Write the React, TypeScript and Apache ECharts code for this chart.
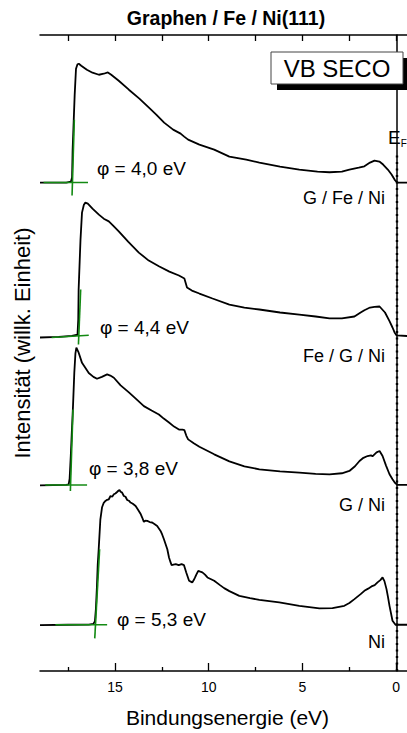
import React, { useEffect, useRef } from "react";
import * as echarts from "echarts";

const FONT = "'Liberation Sans', Arial, Helvetica, sans-serif";

// x axis (binding energy, eV), drawn reversed
const xMajorTicks = [0, 5, 10, 15];
const xMinorTicks = [2.5, 7.5, 12.5, 17.5];
const xTopTicks = [0, 2.5, 5, 7.5, 10, 12.5, 15, 17.5];

const sampleNames = ["G / Fe / Ni", "Fe / G / Ni", "G / Ni", "Ni"];
const workFunctionLabels = ["φ = 4,0 eV", "φ = 4,4 eV", "φ = 3,8 eV", "φ = 5,3 eV"];
const offsets = [76.8, 52.6, 29.25, 7.27];

// G / Fe / Ni
const s1E = [19, 17.6, 17.35, 17.29, 17.26, 17.2, 17.15, 17.08, 17.0, 16.93, 16.8, 16.5, 16.2, 15.86, 15.6, 15.38, 15.2, 14.8, 14.26, 13.7, 13.19, 12.8, 12.38, 11.9, 11.5, 11.31, 11.1, 10.5, 9.71, 8.9, 8.0, 7.3, 6.2, 5.17, 4.2, 3.56, 2.9, 2.5, 2.0, 1.7, 1.4, 1.16, 0.9, 0.7, 0.45, 0.25, 0.09, -0.05, -1];
const s1I = [0, 0, 0.16, 0.78, 5.18, 9.89, 13.82, 17.9, 18.6, 18.68, 18.37, 17.74, 17.27, 16.95, 17.11, 17.32, 16.95, 16.01, 14.6, 13.19, 11.77, 10.68, 9.42, 8.32, 7.69, 7.22, 6.75, 5.97, 5.18, 4.08, 3.61, 3.14, 2.51, 2.04, 1.73, 1.62, 1.73, 2.04, 2.35, 2.56, 3.14, 3.45, 3.3, 2.83, 2.04, 1.26, 0.47, 0, 0];

// Fe / G / Ni
const s2E = [19, 18, 17.3, 17.0, 16.96, 16.94, 16.88, 16.84, 16.76, 16.66, 16.58, 16.45, 16.2, 15.86, 15.6, 15.33, 15.1, 14.8, 14.3, 13.73, 13.2, 12.66, 12.1, 11.59, 11.3, 11.16, 10.9, 10.5, 9.8, 8.9, 8.1, 7.3, 6.2, 5.17, 4.3, 3.56, 2.9, 2.23, 1.9, 1.7, 1.4, 1.16, 0.89, 0.6, 0.36, 0.2, 0.09, -0.02, -1];
const s2I = [-0.16, -0.08, 0.08, 0.27, 2.67, 7.38, 12.09, 15.23, 19.47, 20.72, 21.04, 20.88, 20.09, 19.15, 18.52, 18.1, 17.43, 16.53, 14.91, 13.19, 11.93, 11.04, 10.2, 9.58, 9.11, 7.69, 7.22, 6.75, 5.97, 5.02, 4.55, 4.24, 3.77, 3.45, 3.14, 2.83, 2.83, 3.14, 3.77, 4.13, 4.55, 4.66, 4.71, 3.77, 2.4, 1.41, 0.63, 0.16, 0];

// G / Ni
const s3E = [19, 17.6, 17.47, 17.42, 17.36, 17.3, 17.24, 17.17, 17.11, 17.06, 16.95, 16.76, 16.4, 16.15, 15.96, 15.7, 15.42, 15.25, 15.06, 14.7, 14.26, 13.85, 13.46, 13.05, 12.66, 12.4, 12.12, 11.85, 11.59, 11.4, 11.3, 11.2, 11.1, 10.8, 10.5, 9.71, 8.9, 8.1, 7.3, 6.2, 5.17, 4.3, 3.56, 2.9, 2.5, 2.2, 1.96, 1.75, 1.53, 1.35, 1.27, 1.05, 0.89, 0.73, 0.55, 0.36, 0.2, 0.09, -0.05, -1];
const s3I = [-0.05, 0, 0.1, 1.0, 4.5, 8.5, 12.4, 17.69, 20.7, 21.6, 20.9, 19.2, 17.6, 17.0, 16.7, 17.0, 17.38, 17.2, 16.86, 15.65, 14.55, 13.45, 12.4, 11.7, 11.07, 10.44, 9.81, 9.18, 8.71, 8.71, 8.63, 7.77, 7.17, 6.55, 6.0, 4.82, 3.72, 2.94, 2.46, 2.15, 1.95, 1.76, 1.68, 1.84, 2.2, 2.94, 3.77, 4.27, 4.55, 4.66, 4.51, 5.13, 5.34, 4.55, 3.09, 1.68, 0.89, 0.42, 0, 0];

// Ni
const s4E = [19, 17.5, 16.4, 16.15, 16.07, 16.02, 15.97, 15.92, 15.87, 15.78, 15.69, 15.6, 15.51, 15.42, 15.33, 15.24, 15.15, 15.06, 14.98, 14.89, 14.82, 14.76, 14.7, 14.62, 14.53, 14.44, 14.35, 14.26, 14.17, 14.05, 13.9, 13.73, 13.64, 13.55, 13.46, 13.38, 13.28, 13.15, 13.02, 12.88, 12.75, 12.57, 12.48, 12.39, 12.3, 12.21, 12.12, 12.04, 11.98, 11.88, 11.76, 11.6, 11.45, 11.32, 11.2, 11.05, 10.96, 10.88, 10.8, 10.73, 10.65, 10.56, 10.45, 10.34, 10.2, 10.07, 9.71, 9.4, 9.18, 8.9, 8.37, 7.8, 7.3, 6.24, 5.17, 4.1, 3.4, 2.77, 2.5, 2.23, 1.9, 1.7, 1.5, 1.32, 1.15, 1.0, 0.85, 0.73, 0.63, 0.52, 0.44, 0.36, 0.2, 0.04, -1];
const s4I = [-0.05, 0, 0.03, 0.14, 0.58, 2.46, 5.6, 9.53, 11.88, 16.59, 18.48, 19.18, 19.47, 19.65, 19.73, 20.25, 20.13, 20.52, 20.64, 20.88, 21.07, 21.19, 20.91, 20.78, 20.25, 20.13, 19.62, 19.5, 19.22, 19.03, 18.68, 17.9, 17.46, 16.86, 16.17, 16.36, 16.33, 16.15, 16.08, 15.81, 15.54, 14.76, 14.16, 13.45, 12.67, 11.88, 10.58, 9.84, 9.37, 9.45, 9.53, 9.37, 9.53, 9.37, 8.23, 6.91, 6.78, 6.66, 7.02, 7.44, 7.96, 8.48, 8.35, 8.23, 7.88, 7.44, 6.91, 6.23, 5.76, 5.29, 4.55, 4.19, 3.92, 3.52, 2.98, 2.57, 2.62, 2.98, 3.41, 4.03, 4.82, 5.34, 5.68, 6.03, 6.23, 6.66, 7.02, 7.44, 6.86, 5.6, 4.35, 2.98, 0.63, 0, 0];

const spectraE = [s1E, s2E, s3E, s4E];
const spectraI = [s1I, s2I, s3I, s4I];

// green fit lines (secondary electron cutoff)
const fitBaselineE = [[18.81, 16.44], [18.38, 16.4], [18.72, 16.49], [18.18, 15.42]];
const fitBaselineI = [[0, 0], [-0.16, 0.2], [0, 0], [0, 0]];
const fitEdgeE = [[17.29, 17.17], [16.95, 16.83], [17.38, 17.24], [16.08, 15.82]];
const fitEdgeI = [[-2.04, 9.89], [-1.26, 7.38], [-0.94, 11.88], [-2.14, 11.88]];

const fermiLevel = 0;
const fermiLineTop = 81.2;

// label placement (pixels)
const phiLabelPos = [[97, 168], [100, 327], [89, 468], [117, 619]];
const nameLabelPos = [[385, 198], [385, 356], [385, 505], [385, 642]];

export default function App() {
  const ref = useRef<HTMLDivElement>(null);
  useEffect(() => {
    if (!ref.current) return;
    const chart = echarts.init(ref.current, null, { renderer: "svg" });
    const black = "#000";
    const green = "#138a13";
    const series: any[] = [];
    spectraE.forEach((E, i) => {
      series.push({
        type: "line",
        data: E.map((e, j) => [e, spectraI[i][j] + offsets[i]]),
        showSymbol: false,
        lineStyle: { color: black, width: 1.8 },
        z: 2,
        silent: true,
        markLine:
          i === 0
            ? {
                silent: true,
                symbol: "none",
                label: { show: false },
                lineStyle: { color: black, width: 2.4, type: [2, 4.5] },
                data: [[{ coord: [fermiLevel, 0] }, { coord: [fermiLevel, fermiLineTop] }]],
              }
            : undefined,
      });
    });
    for (let i = 0; i < 4; i++) {
      series.push({
        type: "line",
        data: fitBaselineE[i].map((e, j) => [e, fitBaselineI[i][j] + offsets[i]]),
        showSymbol: false,
        lineStyle: { color: green, width: 1.6 },
        z: 3,
        silent: true,
      });
      series.push({
        type: "line",
        data: fitEdgeE[i].map((e, j) => [e, fitEdgeI[i][j] + offsets[i]]),
        showSymbol: false,
        lineStyle: { color: green, width: 1.6 },
        z: 3,
        silent: true,
      });
    }

    const graphic: any[] = [
      {
        type: "text",
        x: 226,
        y: 18,
        style: { text: "Graphen / Fe / Ni(111)", fill: black, font: `bold 19.5px ${FONT}`, textAlign: "center", textVerticalAlign: "middle" },
      },
      { type: "rect", shape: { x: 277, y: 58, width: 132, height: 32 }, style: { fill: black }, z: 10 },
      { type: "rect", shape: { x: 271, y: 52, width: 132, height: 32 }, style: { fill: "#fff", stroke: "#444", lineWidth: 1 }, z: 11 },
      {
        type: "text",
        x: 337,
        y: 68,
        z: 12,
        style: { text: "VB SECO", fill: black, font: `24px ${FONT}`, textAlign: "center", textVerticalAlign: "middle" },
      },
      {
        type: "text",
        x: 22,
        y: 343,
        rotation: Math.PI / 2,
        style: { text: "Intensität (willk. Einheit)", fill: black, font: `22px ${FONT}`, textAlign: "center", textVerticalAlign: "middle" },
      },
      {
        type: "text",
        x: 388,
        y: 137,
        style: {
          text: "{a|E}{b|F}",
          fill: black,
          textVerticalAlign: "middle",
          rich: {
            a: { fontSize: 19, fontFamily: FONT, fill: black, color: black },
            b: { fontSize: 10, fontFamily: FONT, fill: black, color: black, padding: [12, 0, 0, 0] },
          },
        },
      },
    ];
    workFunctionLabels.forEach((t, i) => {
      graphic.push({
        type: "text",
        x: phiLabelPos[i][0],
        y: phiLabelPos[i][1],
        style: { text: t, fill: black, font: `19px ${FONT}`, textAlign: "left", textVerticalAlign: "middle" },
      });
    });
    sampleNames.forEach((t, i) => {
      graphic.push({
        type: "text",
        x: nameLabelPos[i][0],
        y: nameLabelPos[i][1],
        style: { text: t, fill: black, font: `18px ${FONT}`, textAlign: "right", textVerticalAlign: "middle" },
      });
    });

    chart.setOption({
      animation: false,
      backgroundColor: "#fff",
      grid: { left: 40, top: 35, right: 15, bottom: 61, containLabel: false },
      xAxis: [
        {
          type: "value",
          position: "bottom",
          inverse: true,
          min: -1,
          max: 19,
          axisLine: { show: true, lineStyle: { color: black, width: 1.5 } },
          axisTick: { show: true, inside: true, length: 8, customValues: xMajorTicks, lineStyle: { color: black, width: 1.3 } },
          axisLabel: { show: true, customValues: xMajorTicks, color: black, fontSize: 14, fontFamily: FONT, margin: 9 },
          splitLine: { show: false },
          name: "Bindungsenergie (eV)",
          nameLocation: "middle",
          nameGap: 36,
          nameTextStyle: { color: black, fontSize: 21, fontFamily: FONT },
        },
        {
          type: "value",
          position: "bottom",
          inverse: true,
          min: -1,
          max: 19,
          axisLine: { show: false },
          axisTick: { show: true, inside: true, length: 4, customValues: xMinorTicks, lineStyle: { color: black, width: 1.3 } },
          axisLabel: { show: false },
          splitLine: { show: false },
        },
        {
          type: "value",
          position: "top",
          inverse: true,
          min: -1,
          max: 19,
          axisLine: { show: true, lineStyle: { color: black, width: 1.5 } },
          axisTick: { show: true, inside: true, length: 6, customValues: xTopTicks, lineStyle: { color: black, width: 1.3 } },
          axisLabel: { show: false },
          splitLine: { show: false },
        },
      ],
      yAxis: {
        type: "value",
        min: 0,
        max: 100,
        axisLine: { show: true, lineStyle: { color: black, width: 1.5 } },
        axisTick: { show: false },
        axisLabel: { show: false },
        splitLine: { show: false },
      },
      series,
      graphic,
    });
    return () => chart.dispose();
  }, []);
  return (
    <div style={{ position: "absolute", left: 0, top: 0, width: 407, height: 733, overflow: "hidden", background: "#fff" }}>
      <div ref={ref} style={{ width: 430, height: 733 }} />
    </div>
  );
}
